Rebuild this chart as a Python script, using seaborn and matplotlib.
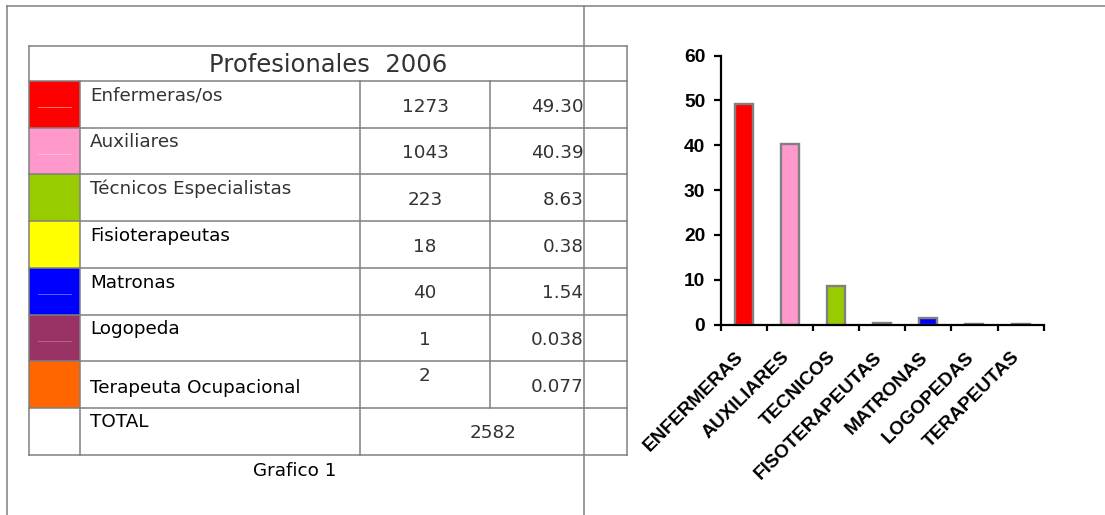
import matplotlib
matplotlib.use("Agg")
import matplotlib.pyplot as plt
from matplotlib.patches import Rectangle
from matplotlib.ticker import FixedLocator
import pandas as pd
import seaborn as sns

# ---- staff table ----
table_title = "Profesionales  2006"
professions = ["Enfermeras/os", "Auxiliares", "Técnicos Especialistas",
               "Fisioterapeutas", "Matronas", "Logopeda", "Terapeuta Ocupacional"]
headcount = [1273, 1043, 223, 18, 40, 1, 2]
percent_text = ["49.30", "40.39", "8.63", "0.38", "1.54", "0.038", "0.077"]
total_label = "TOTAL"
total_count = 2582
caption = "Grafico 1"

# ---- bar chart ----
bar_labels = ["ENFERMERAS", "AUXILIARES", "TECNICOS", "FISOTERAPEUTAS",
              "MATRONAS", "LOGOPEDAS", "TERAPEUTAS"]
bar_colors = ["#FF0000", "#FF99CC", "#99CC00", "#FFFF00", "#0000FF", "#993366", "#FF6600"]
y_ticks = [0, 10, 20, 30, 40, 50, 60]

percent = [float(p) for p in percent_text]

W, H = 1105, 515
DPI = 100
GRID = "#808080"
LW = 1.1
BODY = ["DejaVu Sans"]
FS = 13.2

fig = plt.figure(figsize=(W / DPI, H / DPI), dpi=DPI)
fig.patch.set_facecolor("white")

# Pixel-space canvas for the page frame and the table
bg = fig.add_axes([0, 0, 1, 1])
bg.set_xlim(0, W)
bg.set_ylim(H, 0)
bg.axis("off")


def hline(y, x0, x1):
    bg.plot([x0, x1], [y, y], color=GRID, lw=LW, solid_capstyle="projecting", zorder=3)


def vline(x, y0, y1):
    bg.plot([x, x], [y0, y1], color=GRID, lw=LW, solid_capstyle="projecting", zorder=3)


# page frame
hline(6, 7, W)
vline(7, 6, H)
vline(584, 6, H)

# table layout
left, right, top, head_bottom = 29, 627, 46, 81
row_h = 46.7
c_sw, c_name, c_count, c_pct = 80, 360, 490, 584
n = len(professions)
row_tops = [head_bottom + i * row_h for i in range(n + 1)]
bottom = head_bottom + (n + 1) * row_h

hline(top, left, right)
hline(bottom, left, right)
for y in row_tops:
    hline(y, left, right)
vline(left, top, bottom)
vline(right, top, bottom)
vline(c_sw, head_bottom, bottom)
vline(c_name, head_bottom, bottom)
vline(c_count, head_bottom, row_tops[-1])

bg.text((left + right) / 2, (top + head_bottom) / 2 + 1, table_title, family=BODY,
        fontsize=17.5, color="#333333", ha="center", va="center")

name_colors = ["#333333", "#333333", "#333333", "black", "black", "black", "black"]
name_offsets = [19.7, 19.7, 19.7, 19.7, 19.7, 19.7, 31.6]
count_offsets = [30.5, 30.5, 30.5, 30.5, 30.5, 30.5, 19.5]
marked = {0: "#FF8C8C", 1: "#FFC2E0", 4: "#6F6FFF", 5: "#B76F8F"}

for i, (name, cnt, pct, col) in enumerate(zip(professions, headcount, percent_text, bar_colors)):
    y0 = row_tops[i]
    bg.add_patch(Rectangle((left, y0), c_sw - left, row_h, facecolor=col,
                           edgecolor="none", zorder=1))
    if i in marked:
        bg.plot([38, 70.5], [y0 + 26.3, y0 + 26.3], color=marked[i], lw=0.6, zorder=2)
    bg.text(c_sw + 10, y0 + name_offsets[i], name, family=BODY, fontsize=FS,
            color=name_colors[i], ha="left", va="baseline")
    bg.text((c_name + c_count) / 2, y0 + count_offsets[i], str(cnt), family=BODY,
            fontsize=FS, color="#333333", ha="center", va="baseline")
    bg.text(c_pct - 0.5, y0 + 30.5, pct, family=BODY, fontsize=FS,
            color="#333333", ha="right", va="baseline")

y_tot = row_tops[-1]
bg.text(c_sw + 10, y_tot + 19.0, total_label, family=BODY, fontsize=FS,
        color="black", ha="left", va="baseline")
bg.text((c_name + right) / 2, y_tot + 30.5, str(total_count), family=BODY,
        fontsize=FS, color="#333333", ha="center", va="baseline")

bg.text(295, 476.5, caption, family=BODY, fontsize=FS, color="black",
        ha="center", va="baseline")

# ---- bar chart axes ----
ax_l, ax_r, ax_t, ax_b = 720.6, 1043.7, 55.7, 324.5
ax = fig.add_axes([ax_l / W, 1 - ax_b / H, (ax_r - ax_l) / W, (ax_b - ax_t) / H])
ax.patch.set_alpha(0)

df = pd.DataFrame({"label": bar_labels, "pct": percent})
sns.barplot(data=df, x="label", y="pct", hue="label", palette=bar_colors,
            legend=False, width=0.39, saturation=1, edgecolor=GRID,
            linewidth=1.7, ax=ax, zorder=2)

ax.set_xlim(-0.5, len(bar_labels) - 0.5)
ax.set_ylim(0, 60)
ax.set_xlabel("")
ax.set_ylabel("")
for s in ("top", "right"):
    ax.spines[s].set_visible(False)
for s in ("left", "bottom"):
    ax.spines[s].set_color("black")
    ax.spines[s].set_linewidth(1.6)
    ax.spines[s].set_zorder(3)

TICKFONT = ["Liberation Sans", "DejaVu Sans"]
tick_style = dict(fontfamily=TICKFONT, fontweight="bold", fontsize=13.8, color="black")

ax.set_yticks(y_ticks, labels=[str(t) for t in y_ticks], **tick_style)
ax.set_xticks(range(len(bar_labels)), labels=bar_labels, rotation=45, ha="right",
              va="baseline", rotation_mode="anchor", **tick_style)

ax.xaxis.set_minor_locator(FixedLocator([i - 0.5 for i in range(len(bar_labels) + 1)]))
ax.tick_params(axis="x", which="major", length=0, pad=24)
ax.tick_params(axis="x", which="minor", length=4.6, width=1.6, color="black", direction="out")
ax.tick_params(axis="y", which="major", length=5, width=1.6, color="black", pad=6)

fig.savefig("out.png", dpi=DPI, facecolor="white")
